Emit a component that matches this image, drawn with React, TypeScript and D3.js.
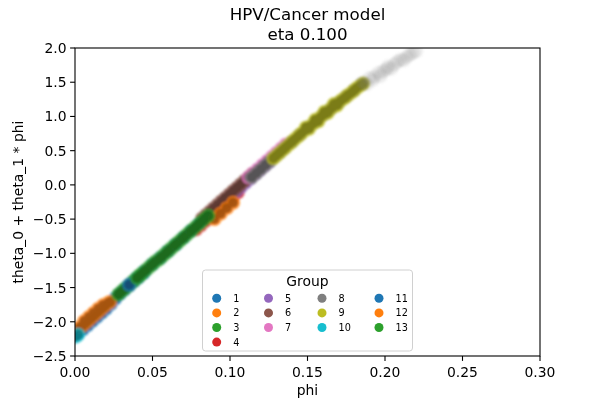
import React from 'react';
import * as d3 from 'd3';

// group names shown in the legend
const groups = ['1', '2', '3', '4', '5', '6', '7', '8', '9', '10', '11', '12', '13'];

// axis ticks
const xTicks = [0, 0.05, 0.1, 0.15, 0.2, 0.25, 0.3];
const yTicks = [-2.5, -2.0, -1.5, -1.0, -0.5, 0.0, 0.5, 1.0, 1.5, 2.0];

// [phi, theta_0 + theta_1 * phi], per group
const g1: [number, number][] = [
  [0.002, -2.17], [0.005, -2.11], [0.008, -2.05], [0.011, -1.99], [0.014, -1.93], [0.017, -1.87],
  [0.020, -1.81], [0.023, -1.74], [0.026, -1.66], [0.029, -1.59], [0.032, -1.53], [0.035, -1.47],
  [0.038, -1.41], [0.041, -1.35], [0.044, -1.29],
];
const g2: [number, number][] = [
  [0.003, -2.08], [0.0045, -2.06], [0.006, -2.03], [0.0075, -2.00], [0.009, -1.97], [0.0105, -1.94],
  [0.012, -1.91], [0.0135, -1.88], [0.015, -1.85], [0.0165, -1.82], [0.018, -1.79], [0.0195, -1.76],
  [0.021, -1.73], [0.0225, -1.71], [0.006, -1.99], [0.009, -1.93], [0.012, -1.87], [0.015, -1.81],
  [0.018, -1.76],
];
const g3: [number, number][] = [
  [0.028, -1.60], [0.030, -1.56], [0.032, -1.52], [0.034, -1.48], [0.036, -1.44], [0.038, -1.40],
  [0.040, -1.36], [0.042, -1.32],
];
const g4: [number, number][] = [
  [0.078, -0.65], [0.081, -0.59], [0.084, -0.53], [0.087, -0.47], [0.090, -0.41], [0.093, -0.35],
  [0.096, -0.29], [0.099, -0.23], [0.102, -0.17], [0.105, -0.11],
];
const g5: [number, number][] = [
  [0.098, -0.21], [0.101, -0.15], [0.104, -0.09], [0.107, -0.03], [0.110, 0.03], [0.113, 0.09],
  [0.116, 0.15], [0.119, 0.21], [0.122, 0.27], [0.125, 0.33],
];
const g6: [number, number][] = [
  [0.082, -0.49], [0.0845, -0.44], [0.087, -0.39], [0.0895, -0.34], [0.092, -0.29], [0.0945, -0.24],
  [0.097, -0.19], [0.0995, -0.14], [0.102, -0.09], [0.1045, -0.04], [0.107, 0.01], [0.1095, 0.06],
  [0.112, 0.11], [0.1145, 0.16],
];
const g7: [number, number][] = [
  [0.112, 0.11], [0.115, 0.17], [0.118, 0.23], [0.121, 0.29], [0.124, 0.35], [0.127, 0.41],
  [0.130, 0.47], [0.133, 0.53], [0.136, 0.59],
];
const g8: [number, number][] = [
  [0.114, 0.11], [0.117, 0.17], [0.120, 0.23], [0.123, 0.29], [0.126, 0.35], [0.129, 0.41],
  [0.132, 0.47], [0.135, 0.53], [0.140, 0.63], [0.145, 0.73], [0.150, 0.83], [0.155, 0.92],
  [0.160, 1.02], [0.165, 1.11], [0.170, 1.20], [0.175, 1.29], [0.180, 1.38], [0.185, 1.47],
];
// the thin grey cloud where group 8 runs out past the olive band
const g8Tail: [number, number][] = [
  [0.186, 1.50], [0.188, 1.47], [0.190, 1.56], [0.192, 1.53], [0.193, 1.58], [0.196, 1.64],
  [0.197, 1.59], [0.199, 1.66], [0.201, 1.69], [0.202, 1.73], [0.204, 1.70], [0.206, 1.76],
  [0.208, 1.80], [0.210, 1.83], [0.212, 1.82], [0.214, 1.87], [0.216, 1.90], [0.218, 1.93], [0.220, 1.95],
];
const g9: [number, number][] = [
  [0.128, 0.39], [0.130, 0.43], [0.132, 0.47], [0.134, 0.51], [0.136, 0.55], [0.138, 0.59],
  [0.140, 0.63], [0.142, 0.67], [0.144, 0.71], [0.146, 0.75], [0.148, 0.79], [0.150, 0.83],
  [0.152, 0.86], [0.154, 0.90], [0.156, 0.94], [0.158, 0.98], [0.160, 1.02], [0.162, 1.06],
  [0.164, 1.09], [0.166, 1.13], [0.168, 1.16], [0.170, 1.20], [0.172, 1.24], [0.174, 1.27],
  [0.176, 1.31], [0.178, 1.34], [0.180, 1.38], [0.182, 1.42], [0.184, 1.45], [0.186, 1.48],
  [0.149, 0.84], [0.151, 0.82], [0.155, 0.95], [0.157, 0.93], [0.161, 1.07], [0.163, 1.05],
  [0.167, 1.18], [0.169, 1.16],
];
const g10: [number, number][] = [
  [0.000, -2.22], [0.001, -2.21], [0.002, -2.19],
];
const g11: [number, number][] = [
  [0.035, -1.46], [0.040, -1.36], [0.045, -1.26], [0.050, -1.16], [0.055, -1.07],
  [0.060, -0.97], [0.065, -0.87], [0.070, -0.77], [0.075, -0.67], [0.080, -0.57],
];
const g12: [number, number][] = [
  [0.090, -0.50], [0.094, -0.42], [0.098, -0.34], [0.102, -0.26],
];
const g13: [number, number][] = [
  [0.040, -1.36], [0.042, -1.32], [0.044, -1.28], [0.046, -1.24], [0.048, -1.20], [0.050, -1.16],
  [0.052, -1.12], [0.054, -1.09], [0.056, -1.05], [0.058, -1.01], [0.060, -0.97], [0.062, -0.93],
  [0.064, -0.89], [0.066, -0.85], [0.068, -0.81], [0.070, -0.77], [0.072, -0.73], [0.074, -0.69],
  [0.076, -0.65], [0.078, -0.61], [0.080, -0.57], [0.082, -0.53], [0.084, -0.49], [0.086, -0.45],
];

const series = [g1, g2, g3, g4, g5, g6, g7, g8, g9, g10, g11, g12, g13];

const width = 600;
const height = 400;
const margin = { left: 75, right: 60, top: 48, bottom: 44 };
const font = 'DejaVu Sans, sans-serif';
const fmt = (v: number, d: number) => v.toFixed(d).replace('-', '\u2212');

const App: React.FC = () => {
  const x = d3.scaleLinear().domain([0, 0.3]).range([margin.left, width - margin.right]);
  const y = d3.scaleLinear().domain([-2.5, 2.0]).range([height - margin.bottom, margin.top]);
  const color = d3.scaleOrdinal<string, string>().domain(groups).range(d3.schemeCategory10);

  const [x0, x1] = x.range();
  const [y0, y1] = y.range();
  const r = 7; // outer size of a dense cloud of points
  const rCore = 5; // where the overlapping points pile up and get darker

  // legend layout: 4 columns, first column gets 4 entries
  const legendColX = [216.7, 268.5, 322, 379];
  const legendRowY = (row: number) => 298.3 + row * 14.6;

  return (
    <div style={{ position: 'fixed', left: 0, top: 0 }}>
      <svg width={width} height={height} style={{ display: 'block', background: '#fff' }}>
        <defs>
          <clipPath id="plotArea">
            <rect x={x0} y={y1} width={x1 - x0} height={y0 - y1} />
          </clipPath>
          <filter id="soft" x="-5%" y="-5%" width="110%" height="110%">
            <feGaussianBlur stdDeviation="1.3" />
          </filter>
        </defs>

        <g clipPath="url(#plotArea)">
          <g filter="url(#soft)">
            {series.map((pts, i) => {
              const c = color(groups[i]);
              const dark = d3.color(c)!.darker(1.3).formatHex();
              return (
                <g key={`s${i}`}>
                  <g opacity={0.8}>
                    {pts.map((p, j) => (
                      <circle key={j} cx={x(p[0])} cy={y(p[1])} r={r} fill={c} />
                    ))}
                  </g>
                  <g opacity={0.9}>
                    {pts.map((p, j) => (
                      <circle key={j} cx={x(p[0])} cy={y(p[1])} r={rCore} fill={dark} />
                    ))}
                  </g>
                </g>
              );
            })}
            {g8Tail.map((p, j) => (
              <circle key={`t${j}`} cx={x(p[0])} cy={y(p[1])} r={r} fill={color('8')} fillOpacity={0.14} />
            ))}
          </g>
        </g>

        {/* spines */}
        <rect x={x0} y={y1} width={x1 - x0} height={y0 - y1} fill="none" stroke="#000" strokeWidth={1.1} />

        {/* x axis */}
        {xTicks.map(t => (
          <g key={`x${t}`}>
            <line x1={x(t)} x2={x(t)} y1={y0} y2={y0 + 4.9} stroke="#000" strokeWidth={1.1} />
            <text x={x(t)} y={y0 + 20.5} textAnchor="middle" fontFamily={font} fontSize={13.9}>
              {fmt(t, 2)}
            </text>
          </g>
        ))}
        <text x={(x0 + x1) / 2} y={395} textAnchor="middle" fontFamily={font} fontSize={13.9}>phi</text>

        {/* y axis */}
        {yTicks.map(t => (
          <g key={`y${t}`}>
            <line x1={x0 - 4.9} x2={x0} y1={y(t)} y2={y(t)} stroke="#000" strokeWidth={1.1} />
            <text x={x0 - 8.5} y={y(t) + 5} textAnchor="end" fontFamily={font} fontSize={13.9}>
              {fmt(t, 1)}
            </text>
          </g>
        ))}
        <text
          transform={`translate(23,${(y0 + y1) / 2}) rotate(-90)`}
          textAnchor="middle"
          fontFamily={font}
          fontSize={13.9}
        >
          theta_0 + theta_1 * phi
        </text>

        {/* title */}
        <text x={(x0 + x1) / 2} y={19.5} textAnchor="middle" fontFamily={font} fontSize={16.7}>HPV/Cancer model</text>
        <text x={(x0 + x1) / 2} y={39.5} textAnchor="middle" fontFamily={font} fontSize={16.7}>eta 0.100</text>

        {/* legend */}
        <rect x={202.5} y={270} width={210} height={81} rx={3} fill="#fff" fillOpacity={0.8} stroke="#d0d0d0" strokeWidth={1} />
        <text x={307.5} y={285.5} textAnchor="middle" fontFamily={font} fontSize={13.9}>Group</text>
        {groups.map((g, i) => {
          const col = i < 4 ? 0 : 1 + Math.floor((i - 4) / 3);
          const row = i < 4 ? i : (i - 4) % 3;
          const cy = legendRowY(row);
          return (
            <g key={`lg${g}`}>
              <circle cx={legendColX[col]} cy={cy} r={4.5} fill={color(g)} />
              <text x={legendColX[col] + 16.5} y={cy + 3.5} fontFamily={font} fontSize={9.7}>{g}</text>
            </g>
          );
        })}
      </svg>
    </div>
  );
};

export default App;
